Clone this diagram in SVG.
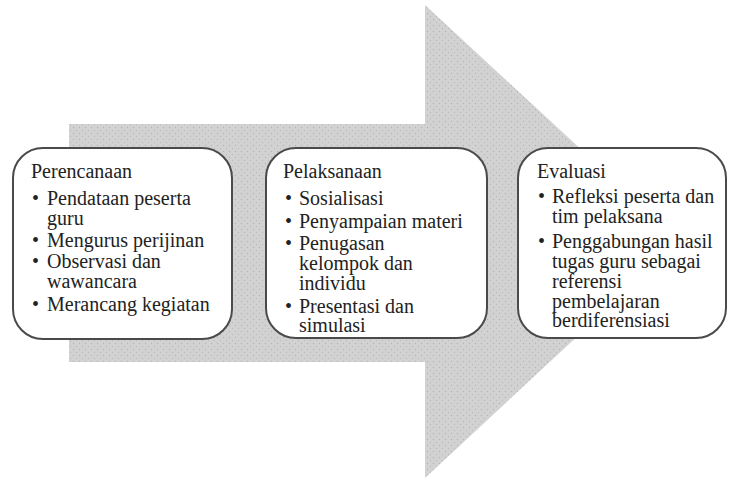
<svg xmlns="http://www.w3.org/2000/svg" width="729" height="479" viewBox="0 0 729 479">
<defs>
<pattern id="dots" width="6" height="6" patternUnits="userSpaceOnUse">
<rect width="6" height="6" fill="#d2d2d2"/>
<circle cx="1.5" cy="1.5" r="0.7" fill="#b4b4b4"/>
<circle cx="4.5" cy="4.5" r="0.7" fill="#bcbcbc"/>
</pattern>
</defs>
<style>
.box{fill:#ffffff;stroke:#4a4a4a;stroke-width:2}
.t{font-family:"Liberation Serif","Times New Roman",serif;font-size:20px;fill:#222222}
</style>
<g id="arrow">
<path d="M69,124 L425,124 L425,5 L680,241 L425,478 L425,362 L69,362 Z" fill="url(#dots)"/>
</g>
<g id="connectors"></g>
<g id="perencanaan">
<rect class="box" x="13" y="148" width="219" height="191" rx="30" ry="30"/>
<text class="t" x="31" y="178">Perencanaan</text>
<text class="t" x="32" y="205">•</text><text class="t" x="47" y="205">Pendataan peserta</text>
<text class="t" x="47" y="225">guru</text>
<text class="t" x="32" y="247">•</text><text class="t" x="47" y="247">Mengurus perijinan</text>
<text class="t" x="32" y="268">•</text><text class="t" x="47" y="268">Observasi dan</text>
<text class="t" x="47" y="288">wawancara</text>
<text class="t" x="32" y="311">•</text><text class="t" x="47" y="311">Merancang kegiatan</text>
</g>
<g id="pelaksanaan">
<rect class="box" x="266" y="148" width="221" height="190" rx="30" ry="30"/>
<text class="t" x="283" y="178">Pelaksanaan</text>
<text class="t" x="285" y="205">•</text><text class="t" x="299" y="205">Sosialisasi</text>
<text class="t" x="285" y="228">•</text><text class="t" x="299" y="228">Penyampaian materi</text>
<text class="t" x="285" y="250">•</text><text class="t" x="299" y="250">Penugasan</text>
<text class="t" x="299" y="270">kelompok dan</text>
<text class="t" x="299" y="290">individu</text>
<text class="t" x="285" y="313">•</text><text class="t" x="299" y="313">Presentasi dan</text>
<text class="t" x="299" y="332">simulasi</text>
</g>
<g id="evaluasi">
<rect class="box" x="518" y="148" width="208" height="190" rx="30" ry="30"/>
<text class="t" x="537" y="178">Evaluasi</text>
<text class="t" x="538" y="203">•</text><text class="t" x="552" y="203">Refleksi peserta dan</text>
<text class="t" x="552" y="223">tim pelaksana</text>
<text class="t" x="538" y="248">•</text><text class="t" x="552" y="248">Penggabungan hasil</text>
<text class="t" x="552" y="268">tugas guru sebagai</text>
<text class="t" x="552" y="288">referensi</text>
<text class="t" x="552" y="308">pembelajaran</text>
<text class="t" x="552" y="327">berdiferensiasi</text>
</g>
</svg>
